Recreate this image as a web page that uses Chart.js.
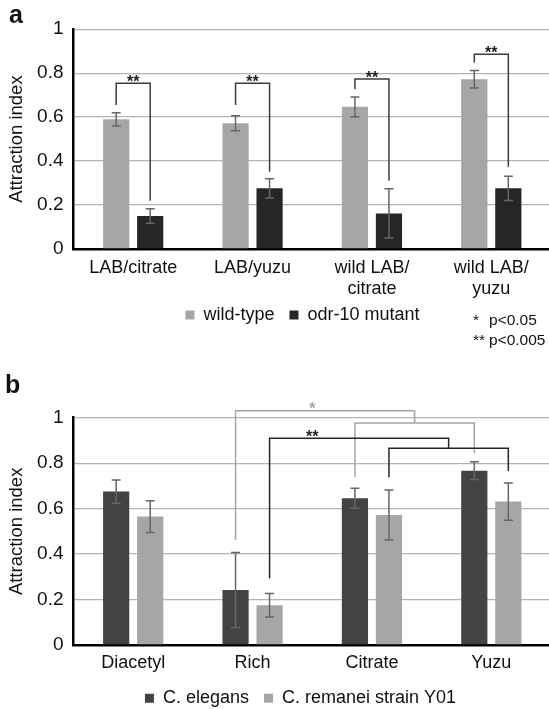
<!DOCTYPE html>
<html lang="en">
  <head>
    <meta charset="UTF-8" />
    <title>Attraction index</title>
    <style>
      html,
      body {
        margin: 0;
        padding: 0;
        width: 549px;
        height: 709px;
        overflow: hidden;
        background-color: #fff;
      }
      body {
        position: relative;
        font-family: "Liberation Sans", Arial, sans-serif;
        color: #111;
      }
      canvas {
        position: absolute;
        left: 0;
      }
      #chartA {
        top: 0;
      }
      #chartB {
        top: 370px;
      }
      .tag {
        position: absolute;
        font-weight: bold;
        font-size: 25px;
        line-height: 25px;
      }
      .pval {
        position: absolute;
        left: 473px;
        top: 310px;
        font-size: 15.5px;
        line-height: 20px;
      }
      .pval span {
        display: inline-block;
        width: 16px;
      }
    </style>
  </head>
  <body>
    <canvas id="chartA" width="552" height="350"></canvas>
    <canvas id="chartB" width="552" height="350"></canvas>
    <div class="tag" style="left: 9px; top: 2px">a</div>
    <div class="tag" style="left: 5px; top: 372px">b</div>
    <div class="pval">
      <div><span>*</span>p&lt;0.05</div>
      <div><span>**</span>p&lt;0.005</div>
    </div>

    <script src="https://cdn.jsdelivr.net/npm/chart.js"></script>
    <script>
      // panel a
      const labelsA = ["LAB/citrate", "LAB/yuzu", ["wild LAB/", "citrate"], ["wild LAB/", "yuzu"]];
      const wildType = [0.59, 0.572, 0.647, 0.772];
      const wildTypeErr = [0.03, 0.034, 0.045, 0.04];
      const odr10 = [0.15, 0.276, 0.162, 0.276];
      const odr10Err = [0.033, 0.044, 0.112, 0.055];
      // ** brackets: top, foot over wild-type, foot over mutant
      const bracketTopA = [0.754, 0.754, 0.773, 0.886];
      const bracketLeftA = [0.655, 0.655, 0.727, 0.849];
      const bracketRightA = [0.22, 0.352, 0.311, 0.374];

      // panel b
      const labelsB = ["Diacetyl", "Rich", "Citrate", "Yuzu"];
      const elegans = [0.675, 0.242, 0.646, 0.767];
      const elegansErr = [0.051, 0.165, 0.044, 0.039];
      const remanei = [0.565, 0.175, 0.572, 0.631];
      const remaneiErr = [0.07, 0.052, 0.11, 0.082];
      // Rich vs Citrate/Yuzu: outer, inner, Rich foot, Citrate foot, Yuzu foot
      const elegansBracket = [1.031, 0.977, 0.462, 0.738, 0.844];
      const remaneiBracket = [0.91, 0.866, 0.294, 0.738, 0.766];

      const FONT = '"Liberation Sans", Arial, sans-serif';
      Chart.defaults.font.family = FONT;
      Chart.defaults.color = "#111";

      const errorBars = {
        id: "errorBars",
        afterDatasetsDraw(chart) {
          const { ctx } = chart;
          const y = chart.scales.y;
          ctx.save();
          ctx.strokeStyle = "#666";
          ctx.lineWidth = 1.5;
          chart.data.datasets.forEach((ds, d) => {
            chart.getDatasetMeta(d).data.forEach((bar, i) => {
              const top = y.getPixelForValue(ds.data[i] + ds.errors[i]);
              const bot = y.getPixelForValue(ds.data[i] - ds.errors[i]);
              ctx.beginPath();
              ctx.moveTo(bar.x, top);
              ctx.lineTo(bar.x, bot);
              ctx.moveTo(bar.x - 4.5, top);
              ctx.lineTo(bar.x + 4.5, top);
              ctx.moveTo(bar.x - 4.5, bot);
              ctx.lineTo(bar.x + 4.5, bot);
              ctx.stroke();
            });
          });
          ctx.restore();
        },
      };

      // move the legend so it sits where the original one does
      const legendShift = {
        id: "legendShift",
        afterLayout(chart, args, opts) {
          chart.legend.left += opts.dx;
          chart.legend.right += opts.dx;
          chart.legend.top += opts.dy;
          chart.legend.bottom += opts.dy;
        },
      };

      const bracketsA = {
        id: "bracketsA",
        afterDatasetsDraw(chart) {
          const { ctx } = chart;
          const { x, y } = chart.scales;
          const wt = chart.getDatasetMeta(0).data;
          const mu = chart.getDatasetMeta(1).data;
          ctx.save();
          ctx.strokeStyle = "#3c3c3c";
          ctx.lineWidth = 1.5;
          ctx.fillStyle = "#222";
          ctx.font = "bold 16px " + FONT;
          ctx.textAlign = "center";
          labelsA.forEach((_, i) => {
            const top = y.getPixelForValue(bracketTopA[i]);
            ctx.beginPath();
            ctx.moveTo(wt[i].x, y.getPixelForValue(bracketLeftA[i]));
            ctx.lineTo(wt[i].x, top);
            ctx.lineTo(mu[i].x, top);
            ctx.lineTo(mu[i].x, y.getPixelForValue(bracketRightA[i]));
            ctx.stroke();
            ctx.fillText("**", x.getPixelForValue(i), top - 1);
          });
          ctx.restore();
        },
      };

      function drawNested(chart, d, vals, color, stars) {
        const { ctx } = chart;
        const { x, y } = chart.scales;
        const bars = chart.getDatasetMeta(d).data;
        const [outer, inner, footRich, footCit, footYuzu] = vals.map((v) => y.getPixelForValue(v));
        const mid = (bars[2].x + bars[3].x) / 2;
        ctx.strokeStyle = color;
        ctx.fillStyle = color;
        ctx.beginPath();
        ctx.moveTo(bars[2].x, footCit);
        ctx.lineTo(bars[2].x, inner);
        ctx.lineTo(bars[3].x, inner);
        ctx.lineTo(bars[3].x, footYuzu);
        ctx.moveTo(bars[1].x, footRich);
        ctx.lineTo(bars[1].x, outer);
        ctx.lineTo(mid, outer);
        ctx.lineTo(mid, inner);
        ctx.stroke();
        ctx.fillText(stars, x.getPixelForValue(1.5), outer - 1);
      }

      const bracketsB = {
        id: "bracketsB",
        afterDatasetsDraw(chart) {
          const { ctx } = chart;
          ctx.save();
          ctx.lineWidth = 1.5;
          ctx.font = "bold 16px " + FONT;
          ctx.textAlign = "center";
          drawNested(chart, 0, elegansBracket, "#a6a6a6", "*");
          drawNested(chart, 1, remaneiBracket, "#262626", "**");
          ctx.restore();
        },
      };

      function makeOptions(padTop, padBottom, xHeight, tickPad, dx, dy) {
        return {
          responsive: false,
          animation: false,
          events: [],
          layout: { padding: { top: padTop, right: 1, bottom: padBottom, left: 0 } },
          datasets: {
            bar: { categoryPercentage: 0.57, barPercentage: 0.77, borderWidth: 0 },
          },
          plugins: {
            legend: {
              position: "bottom",
              labels: {
                boxWidth: 9,
                boxHeight: 9,
                padding: 15,
                color: "#111",
                font: { size: 18 },
              },
            },
            legendShift: { dx: dx, dy: dy },
            tooltip: { enabled: false },
          },
          scales: {
            x: {
              grid: { display: false, drawTicks: false },
              border: { color: "#000", width: 2.5 },
              ticks: {
                padding: tickPad,
                autoSkip: false,
                maxRotation: 0,
                color: "#111",
                font: { size: 18 },
              },
              afterFit: (axis) => {
                axis.height = xHeight;
              },
            },
            y: {
              min: 0,
              max: 1,
              ticks: {
                stepSize: 0.2,
                padding: 10,
                color: "#111",
                font: { size: 19 },
                callback: (v) => String(Math.round(v * 10) / 10),
              },
              grid: { color: "#b4b4b4", lineWidth: 1.3, drawTicks: false },
              border: { color: "#000", width: 2.5 },
              title: {
                display: true,
                text: "Attraction index",
                color: "#111",
                font: { size: 18.5 },
                padding: { top: 6, bottom: 0 },
              },
              afterFit: (axis) => {
                axis.width = 73.5;
              },
            },
          },
        };
      }

      new Chart(document.getElementById("chartA"), {
        type: "bar",
        data: {
          labels: labelsA,
          datasets: [
            { label: "wild-type", data: wildType, errors: wildTypeErr, backgroundColor: "#a6a6a6" },
            { label: "odr-10 mutant", data: odr10, errors: odr10Err, backgroundColor: "#262626" },
          ],
        },
        options: makeOptions(29.2, 6, 52, 8, 27, -10),
        plugins: [errorBars, bracketsA, legendShift],
      });

      new Chart(document.getElementById("chartB"), {
        type: "bar",
        data: {
          labels: labelsB,
          datasets: [
            { label: "C. elegans", data: elegans, errors: elegansErr, backgroundColor: "#434343" },
            { label: "C. remanei strain Y01", data: remanei, errors: remaneiErr, backgroundColor: "#a6a6a6" },
          ],
        },
        options: makeOptions(47.7, 2.7, 29.3, 7, 25, 0),
        plugins: [errorBars, bracketsB, legendShift],
      });
    </script>
  </body>
</html>
